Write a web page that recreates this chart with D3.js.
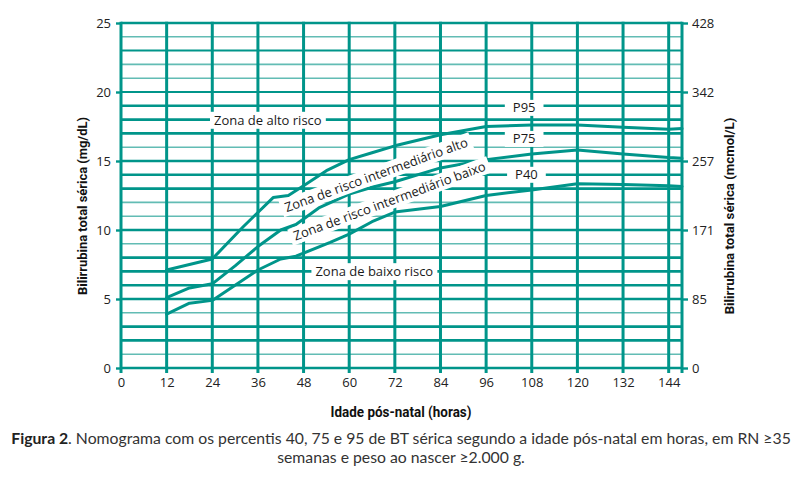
<!DOCTYPE html>
<html>
<head>
<meta charset="utf-8">
<script src="https://cdn.jsdelivr.net/npm/d3@7/dist/d3.min.js"></script>
<style>
  html, body { margin: 0; padding: 0; background: #fff; }
  svg { display: block; }
</style>
</head>
<body>
<svg id="chart" width="803" height="481"></svg>
<script>
// ---------- data ----------
const xTicks = [0, 12, 24, 36, 48, 60, 72, 84, 96, 108, 120, 132, 144];
const yTicksLeft = [0, 5, 10, 15, 20, 25];
const yTicksRight = ["0", "85", "171", "257", "342", "428"];
const gridLevels = d3.range(0, 26);
const lightLevels = [24, 22, 21, 16, 12, 11, 9, 4, 1];
const mediumLevels = [23, 20];

const p95Hours  = [12, 18, 24, 32, 40, 44, 48, 54, 60, 66, 72, 84, 96, 108, 120, 132, 144, 147.5];
const p95Values = [7.1, 7.5, 7.9, 10.2, 12.35, 12.5, 13.2, 14.3, 15.1, 15.6, 16.1, 16.9, 17.5, 17.6, 17.6, 17.45, 17.3, 17.35];

const p75Hours  = [12, 18, 24, 30, 36, 42, 46, 52, 60, 66, 72, 84, 96, 108, 120, 132, 144, 147.5];
const p75Values = [5.1, 5.8, 6.1, 7.4, 8.8, 10.0, 10.4, 11.6, 12.6, 13.1, 13.5, 14.5, 15.1, 15.5, 15.8, 15.5, 15.25, 15.2];

const p40Hours  = [12, 18, 24, 30, 36, 42, 46, 55, 60, 66, 72, 84, 96, 108, 120, 132, 144, 147.5];
const p40Values = [3.9, 4.7, 4.9, 6.0, 7.1, 7.9, 8.1, 9.1, 9.7, 10.6, 11.3, 11.7, 12.5, 12.9, 13.35, 13.3, 13.2, 13.15];

const seriesNames = ["P95", "P75", "P40"];

// ---------- setup ----------
const teal = "#00958a";
const tealLight = "#62bcb4";
const svg = d3.select("#chart");

const x = d3.scaleLinear().domain([0, 147.5]).range([121, 682]);
const y = d3.scaleLinear().domain([0, 25]).range([368, 23]);

const gGrid = svg.append("g");

// horizontal grid
gGrid.selectAll("line.h").data(gridLevels).join("line")
  .attr("x1", x(0)).attr("x2", x(147.5))
  .attr("y1", d => y(d)).attr("y2", d => y(d))
  .attr("stroke", d => lightLevels.includes(d) ? tealLight : teal)
  .attr("stroke-width", d => lightLevels.includes(d) ? 1.6 : (mediumLevels.includes(d) ? 2.0 : 2.6));

// vertical grid
gGrid.selectAll("line.v").data(xTicks.concat([147.5])).join("line")
  .attr("x1", d => x(d)).attr("x2", d => x(d))
  .attr("y1", y(25) - 1.3).attr("y2", y(0) + 5)
  .attr("stroke", teal).attr("stroke-width", 3);

const tickFont = "'Open Sans', sans-serif";
// left ticks
const leftAxis = d3.axisLeft(y).tickValues(yTicksLeft).tickSize(5).tickPadding(5).tickFormat(d3.format("d"));
const gL = svg.append("g").attr("transform", `translate(${x(0)},0)`).call(leftAxis);
gL.select(".domain").remove();
gL.selectAll(".tick line").attr("stroke", teal).attr("stroke-width", 2.4);
gL.selectAll(".tick text").attr("font-family", tickFont).attr("font-size", 13).attr("fill", "#222");

// right ticks
const rightAxis = d3.axisRight(y).tickValues(yTicksLeft).tickSize(6).tickPadding(4)
  .tickFormat((d, i) => yTicksRight[i]);
const gR = svg.append("g").attr("transform", `translate(${x(147.5)},0)`).call(rightAxis);
gR.select(".domain").remove();
gR.selectAll(".tick line").attr("stroke", teal).attr("stroke-width", 2.4);
gR.selectAll(".tick text").attr("font-family", tickFont).attr("font-size", 13).attr("fill", "#222");

// bottom tick labels
const bottomAxis = d3.axisBottom(x).tickValues(xTicks).tickSize(0).tickPadding(10).tickFormat(d3.format("d"));
const gB = svg.append("g").attr("transform", `translate(0,${y(0)})`).call(bottomAxis);
gB.select(".domain").remove();
gB.selectAll(".tick text").attr("font-family", tickFont).attr("font-size", 13).attr("fill", "#222");

// ---------- labels with white boxes ----------
const labelFont = "'Open Sans', sans-serif";
const gLabels = svg.append("g");
function boxedLabel(hx, vy, text, angle, size, padX, padY) {
  const g = gLabels.append("g")
    .attr("transform", `translate(${x(hx)},${y(vy)}) rotate(${angle})`);
  const t = g.append("text").text(text)
    .attr("font-family", labelFont).attr("font-size", size).attr("fill", "#1a1a1a")
    .attr("text-anchor", "middle").attr("dy", "0.35em");
  const bb = t.node().getBBox();
  g.insert("rect", "text")
    .attr("x", bb.x - padX).attr("y", -8.5 - padY)
    .attr("width", bb.width + 2 * padX).attr("height", 17 + 2 * padY)
    .attr("fill", "#fff");
  return g;
}

const curveDefs = [
  {name: seriesNames[0], hours: p95Hours, values: p95Values},
  {name: seriesNames[1], hours: p75Hours, values: p75Values},
  {name: seriesNames[2], hours: p40Hours, values: p40Values}
];

const zoneLabels = [
  {h: 38.6, v: 17.95, text: "Zona de alto risco", a: 0},
  {h: 67.1, v: 14.0, text: "Zona de risco intermediário alto", a: -20},
  {h: 70.6, v: 12.1, text: "Zona de risco intermediário baixo", a: -20.3},
  {h: 66.6, v: 6.98, text: "Zona de baixo risco", a: 0}
];
zoneLabels.forEach(l => boxedLabel(l.h, l.v, l.text, l.a, 13, 4, 0));

const pLabelPos = [{h: 106.0, v: 18.85}, {h: 106.0, v: 16.6}, {h: 106.6, v: 14.0}];
curveDefs.forEach((c, i) => boxedLabel(pLabelPos[i].h, pLabelPos[i].v, c.name, 0, 13, 8, -0.5));

// curves
const line = d3.line().x(d => x(d[0])).y(d => y(d[1])).curve(d3.curveLinear);
svg.append("g").selectAll("path").data(curveDefs).join("path")
  .attr("d", c => line(c.hours.map((h, i) => [h, c.values[i]])))
  .attr("fill", "none").attr("stroke", teal).attr("stroke-width", 3)
  .attr("stroke-linejoin", "round").attr("stroke-linecap", "round");

gLabels.raise();

// ---------- axis titles (fit to target length) ----------
const titleFont = "Roboto, 'Open Sans', sans-serif";
function fittedTitle(cx, cy, angle, text, size, target) {
  const g = svg.append("g").attr("transform", `translate(${cx},${cy}) rotate(${angle})`);
  const t = g.append("text").text(text)
    .attr("text-anchor", "middle").attr("dy", "0.35em")
    .attr("font-family", titleFont).attr("font-weight", "bold").attr("font-size", size)
    .attr("fill", "#111");
  const len = t.node().getComputedTextLength();
  t.attr("transform", `scale(${target / len},1)`);
}
fittedTitle(82, 206, -90, "Bilirrubina total sérica (mg/dL)", 13, 178);
fittedTitle(729, 216, -90, "Bilirrubina total sérica (mcmol/L)", 13, 197);
fittedTitle(401, 412, 0, "Idade pós-natal (horas)", 14, 141);

// ---------- caption ----------
const capFont = "Lato, 'Noto Sans', sans-serif";
const cap1 = svg.append("text")
  .attr("x", 401).attr("y", 438)
  .attr("text-anchor", "middle").attr("dy", "0.35em")
  .attr("font-family", capFont).attr("font-size", 14).attr("fill", "#333");
cap1.append("tspan").attr("font-weight", "bold").attr("fill", "#222").text("Figura 2");
cap1.append("tspan").text(". Nomograma com os percentis 40, 75 e 95 de BT sérica segundo a idade pós-natal em horas, em RN ≥35");
const capLen = cap1.node().getComputedTextLength();
const capSize = 14 * 780 / capLen;
cap1.attr("font-size", capSize);

svg.append("text")
  .attr("x", 401).attr("y", 457)
  .attr("text-anchor", "middle").attr("dy", "0.35em")
  .attr("font-family", capFont).attr("font-size", capSize).attr("fill", "#333")
  .text("semanas e peso ao nascer ≥2.000 g.");
</script>
</body>
</html>
